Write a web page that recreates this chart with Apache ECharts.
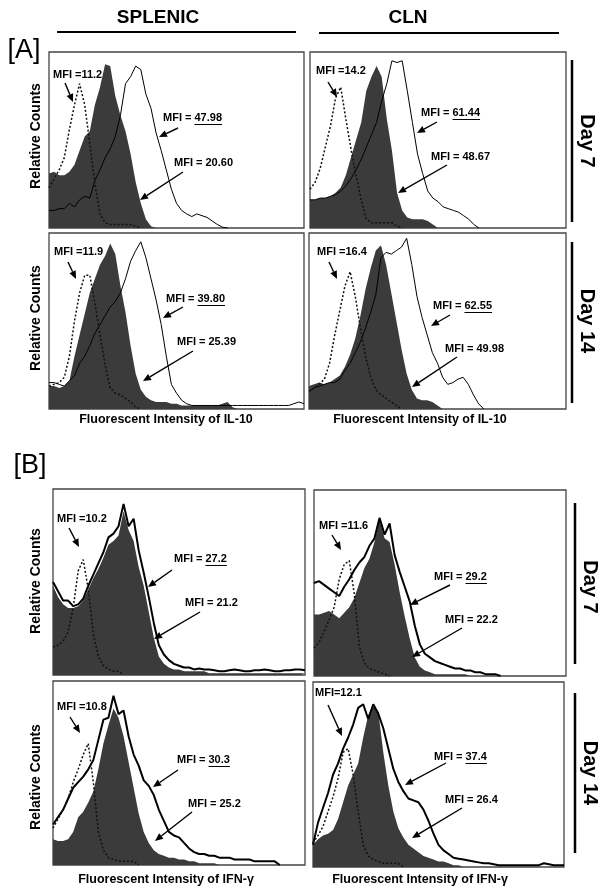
<!DOCTYPE html>
<html><head><meta charset="utf-8">
<script src="https://cdn.jsdelivr.net/npm/echarts@6/dist/echarts.min.js"></script>
<style>html,body{margin:0;padding:0;background:#fff}#c{width:610px;height:895px}</style>
</head><body><div id="c"></div>
<script>
// Histogram values (relative counts 0..1) per bin (bin index 0..50 across the fluorescence axis)
const A1_fill  = [0.31,0.32,0.30,0.30,0.32,0.36,0.44,0.52,0.55,0.70,0.80,0.93,0.92,0.75,0.64,0.55,0.42,0.26,0.14,0.05,0.01,0];
const A1_solid = [0.10,0.10,0.11,0.11,0.14,0.12,0.16,0.18,0.17,0.27,0.33,0.40,0.45,0.52,0.64,0.82,0.86,0.92,0.90,0.76,0.68,0.54,0.44,0.33,0.22,0.14,0.10,0.08,0.065,0.08,0.07,0.06,0.04,0.02,0.005,0];
const A1_dot   = [0.23,0.28,0.33,0.40,0.56,0.70,0.82,0.70,0.48,0.25,0.08,0.03,0.02,0.02,0.02,0.02,0.02,0.01,0];

const A2_fill  = [0.16,0.16,0.17,0.17,0.18,0.20,0.23,0.30,0.40,0.50,0.60,0.78,0.86,0.92,0.86,0.62,0.44,0.20,0.10,0.06,0.05,0.05,0.05,0.04,0.02,0];
const A2_solid = [0.16,0.16,0.17,0.17,0.18,0.19,0.21,0.24,0.28,0.33,0.39,0.46,0.53,0.60,0.72,0.82,0.95,0.94,0.95,0.78,0.60,0.42,0.31,0.21,0.17,0.15,0.12,0.11,0.10,0.09,0.07,0.05,0.02,0];
const A2_dot   = [0.22,0.26,0.34,0.46,0.58,0.74,0.80,0.62,0.45,0.30,0.16,0.05,0.03,0.03,0.03,0.03,0.03,0.01,0];

const A3_fill  = [0.13,0.13,0.12,0.13,0.16,0.30,0.42,0.54,0.66,0.74,0.82,0.87,0.94,0.88,0.70,0.55,0.36,0.20,0.11,0.07,0.05,0.04,0.04,0.04,0.03,0.03,0.02,0.02,0.02,0.02,0.02,0.02,0.02,0.02,0.03,0.04,0.01,0];
const A3_solid = [0.15,0.15,0.14,0.13,0.16,0.19,0.26,0.30,0.36,0.43,0.48,0.53,0.58,0.61,0.66,0.74,0.84,0.90,0.95,0.86,0.74,0.62,0.48,0.30,0.14,0.09,0.05,0.03,0.02,0.02,0.02,0.02,0.02,0.02,0.02,0.02,0.02,0.02,0.02,0.02,0.02,0.02,0.02,0.02,0.02,0.02,0.02,0.02,0.03,0.04,0.03];
const A3_dot   = [0.13,0.14,0.15,0.18,0.30,0.50,0.66,0.76,0.76,0.60,0.42,0.25,0.12,0.09,0.08,0.06,0.04,0.01,0];

const A4_fill  = [0.13,0.14,0.15,0.14,0.15,0.17,0.19,0.24,0.31,0.40,0.53,0.68,0.80,0.90,0.93,0.82,0.66,0.50,0.34,0.20,0.11,0.06,0.05,0.05,0.04,0.02,0];
const A4_solid = [0.10,0.12,0.13,0.14,0.15,0.15,0.17,0.22,0.26,0.32,0.38,0.46,0.55,0.65,0.86,0.89,0.88,0.90,0.92,0.97,0.82,0.64,0.52,0.42,0.32,0.26,0.18,0.14,0.15,0.17,0.18,0.14,0.08,0.03,0];
const A4_dot   = [0.10,0.12,0.14,0.17,0.26,0.42,0.56,0.70,0.78,0.64,0.46,0.30,0.18,0.11,0.08,0.06,0.04,0.02,0];

const B1_fill  = [0.48,0.42,0.38,0.36,0.36,0.37,0.40,0.46,0.52,0.57,0.63,0.70,0.72,0.75,0.88,0.78,0.72,0.58,0.48,0.34,0.20,0.10,0.06,0.04,0.03,0.03,0.02,0.02,0.02,0.02,0.02,0.01,0.01,0.01,0.01,0.01,0.01,0.01,0.01,0.01,0.01,0.01,0.01,0.01,0.01,0.01,0.01,0.01,0.01,0.01,0.01];
const B1_solid = [0.50,0.45,0.40,0.40,0.37,0.38,0.41,0.48,0.54,0.60,0.66,0.74,0.76,0.80,0.92,0.80,0.84,0.67,0.55,0.42,0.28,0.16,0.11,0.08,0.06,0.05,0.04,0.04,0.03,0.035,0.03,0.03,0.025,0.02,0.02,0.025,0.03,0.025,0.02,0.02,0.025,0.025,0.03,0.025,0.02,0.02,0.025,0.025,0.03,0.03,0.025];
const B1_dot   = [0.15,0.16,0.18,0.23,0.36,0.56,0.62,0.46,0.22,0.10,0.05,0.03,0.02,0.02,0];

const B2_fill  = [0.33,0.33,0.34,0.35,0.33,0.31,0.34,0.37,0.42,0.50,0.58,0.63,0.72,0.84,0.74,0.72,0.60,0.45,0.32,0.20,0.10,0.05,0.03,0.02,0.01,0.01,0.01,0.01,0.01,0.01,0.01,0];
const B2_solid = [0.50,0.51,0.49,0.47,0.45,0.43,0.48,0.52,0.57,0.61,0.64,0.70,0.74,0.85,0.76,0.82,0.65,0.56,0.48,0.40,0.27,0.17,0.12,0.10,0.08,0.07,0.06,0.05,0.04,0.04,0.03,0.03,0.02,0.02,0.01,0.01,0.01,0];
const B2_dot   = [0.15,0.18,0.24,0.30,0.37,0.52,0.60,0.62,0.44,0.16,0.07,0.04,0.03,0.02,0.01,0];

const B3_fill  = [0.14,0.13,0.13,0.14,0.18,0.26,0.29,0.34,0.40,0.52,0.66,0.76,0.85,0.80,0.70,0.56,0.42,0.28,0.18,0.12,0.08,0.06,0.05,0.04,0.04,0.03,0.03,0.02,0.02,0.01,0.01,0.01,0.01,0];
const B3_solid = [0.22,0.26,0.30,0.36,0.42,0.45,0.48,0.52,0.57,0.68,0.79,0.80,0.92,0.82,0.84,0.70,0.60,0.54,0.46,0.43,0.38,0.30,0.24,0.18,0.16,0.15,0.12,0.09,0.07,0.06,0.06,0.05,0.05,0.04,0.04,0.04,0.03,0.03,0.03,0.03,0.02,0.02,0.02,0.02,0.02,0];
const B3_dot   = [0.20,0.25,0.30,0.36,0.45,0.52,0.60,0.66,0.45,0.18,0.08,0.04,0.03,0.02,0.02,0.02,0.02,0];

const B4_fill  = [0.12,0.15,0.17,0.18,0.20,0.26,0.35,0.44,0.50,0.56,0.70,0.82,0.87,0.84,0.62,0.44,0.30,0.21,0.16,0.12,0.10,0.08,0.06,0.05,0.04,0.03,0.03,0.02,0.01,0.01,0];
const B4_solid = [0.12,0.24,0.32,0.40,0.50,0.56,0.64,0.70,0.77,0.86,0.88,0.80,0.88,0.83,0.75,0.64,0.53,0.46,0.41,0.37,0.36,0.35,0.31,0.25,0.18,0.12,0.09,0.07,0.05,0.045,0.04,0.035,0.03,0.025,0.02,0.02,0.015,0.01,0.01,0.01,0.01,0.01,0.01,0.01,0.01,0.01,0.02,0.015,0.01,0.01,0.01];
const B4_dot   = [0.13,0.17,0.22,0.30,0.38,0.48,0.62,0.64,0.50,0.30,0.12,0.06,0.04,0.03,0.02,0.02,0.02,0.02,0];

// MFI annotation texts
const mfiLabels = [
  ['MFI =11.2','',53,75], ['MFI = ','47.98',163,118], ['MFI = 20.60','',174,163],
  ['MFI =14.2','',316,71], ['MFI = ','61.44',421,113], ['MFI = 48.67','',431,157],
  ['MFI =11.9','',54,252], ['MFI = ','39.80',166,299], ['MFI = 25.39','',177,342],
  ['MFI =16.4','',317,252], ['MFI = ','62.55',433,306], ['MFI = 49.98','',445,349],
  ['MFI =10.2','',57,519], ['MFI = ','27.2',174,559], ['MFI = 21.2','',185,603],
  ['MFI =11.6','',319,526], ['MFI = ','29.2',434,577], ['MFI = 22.2','',445,620],
  ['MFI =10.8','',57,707], ['MFI = ','30.3',177,760], ['MFI = 25.2','',188,804],
  ['MFI=12.1','',315,693], ['MFI = ','37.4',434,757], ['MFI = 26.4','',445,800]
];
const arrows = [
  [65,83,73,102],[178,128,159,137],[183,172,140,200],
  [328,82,337,97],[437,122,417,133],[447,165,398,193],
  [68,262,76,279],[183,307,163,318],[193,351,143,381],
  [329,262,337,279],[450,315,431,326],[457,357,412,387],
  [69,528,79,547],[172,570,148,587],[200,612,154,639],
  [332,535,341,550],[450,585,410,605],[462,628,412,657],
  [70,717,80,733],[178,770,153,787],[192,812,155,841],
  [328,705,342,736],[446,763,405,785],[462,808,412,838]
];

const panels = [
  {box:[49,52,255,176], fill:A1_fill, solid:A1_solid, dot:A1_dot, lw:1},
  {box:[310,52,256,176], fill:A2_fill, solid:A2_solid, dot:A2_dot, lw:1},
  {box:[49,233,255,176], fill:A3_fill, solid:A3_solid, dot:A3_dot, lw:1},
  {box:[309,233,257,176], fill:A4_fill, solid:A4_solid, dot:A4_dot, lw:1},
  {box:[53,489,252,186], fill:B1_fill, solid:B1_solid, dot:B1_dot, lw:2},
  {box:[314,490,252,186], fill:B2_fill, solid:B2_solid, dot:B2_dot, lw:2},
  {box:[53,681,252,184], fill:B3_fill, solid:B3_solid, dot:B3_dot, lw:2},
  {box:[313,682,251,185], fill:B4_fill, solid:B4_solid, dot:B4_dot, lw:2}
];

const FONT = '"Liberation Sans", Arial, sans-serif';
const chart = echarts.init(document.getElementById('c'), null, {renderer:'canvas'});
const grid=[], xAxis=[], yAxis=[], series=[];
const pts = arr => arr.map((v,k)=>[k,v]);
panels.forEach((p,i)=>{
  grid.push({left:p.box[0], top:p.box[1], width:p.box[2], height:p.box[3], show:true,
    borderColor:'#454545', borderWidth:1.3, backgroundColor:'#fff'});
  xAxis.push({type:'value', gridIndex:i, min:0, max:50, show:false});
  yAxis.push({type:'value', gridIndex:i, min:0, max:1, show:false});
  series.push({type:'line', xAxisIndex:i, yAxisIndex:i, data:pts(p.fill), symbol:'none', silent:true,
    lineStyle:{width:0}, areaStyle:{color:'#3b3b3b', opacity:1}, z:2});
  series.push({type:'line', xAxisIndex:i, yAxisIndex:i, data:pts(p.solid), symbol:'none', silent:true,
    lineStyle:{width:p.lw, color:'#000'}, z:3});
  series.push({type:'line', xAxisIndex:i, yAxisIndex:i, data:pts(p.dot), symbol:'none', silent:true,
    lineStyle:{width:1.5, color:'#111', type:[2,2]}, z:4});
});

const g = [];
function txt(x,y,text,size,opts){
  g.push(Object.assign({type:'text', x:x, y:y, z:100, style:{text:text, font:'bold '+size+'px '+FONT, fill:'#000',
    textAlign:'center', textVerticalAlign:'middle'}}, opts||{}));
}
function line(x1,y1,x2,y2,w){
  g.push({type:'line', z:100, shape:{x1,y1,x2,y2}, style:{stroke:'#000', lineWidth:w}});
}
// headers
txt(158,18,'SPLENIC',19); txt(408,18,'CLN',19);
line(57,32,296,32,2); line(319,33,559,33,2);
g.push({type:'text', x:24, y:51, z:100, style:{text:'[A]', font:'27px '+FONT, fill:'#000', textAlign:'center', textVerticalAlign:'middle'}});
g.push({type:'text', x:30, y:466, z:100, style:{text:'[B]', font:'27px '+FONT, fill:'#000', textAlign:'center', textVerticalAlign:'middle'}});
// y titles
[136,318,581,777].forEach(y=>txt(36,y,'Relative Counts',14,{rotation:Math.PI/2}));
// x titles
txt(166,420,'Fluorescent Intensity of IL-10',12.5); txt(420,420,'Fluorescent Intensity of IL-10',12.5);
txt(166,880,'Fluorescent Intensity of IFN-\u03b3',12.5); txt(420,880,'Fluorescent Intensity of IFN-\u03b3',12.5);
// day labels
txt(587,141,'Day 7',20,{rotation:-Math.PI/2}); txt(587,321,'Day 14',20,{rotation:-Math.PI/2});
txt(590,587,'Day 7',20,{rotation:-Math.PI/2}); txt(590,773,'Day 14',20,{rotation:-Math.PI/2});
line(572,60,572,222,2.5); line(572,242,572,403,2.5);
line(575,503,575,664,2.5); line(575,693,575,853,2.5);
// MFI labels
const ctx = document.createElement('canvas').getContext('2d');
const mfont = 'bold 11px '+FONT;
ctx.font = mfont;
mfiLabels.forEach(([pre,num,x,y])=>{
  g.push({type:'text', x:x, y:y, z:100, style:{text:pre, font:mfont, fill:'#000', textAlign:'left', textVerticalAlign:'middle'}});
  if(num){
    const w0 = ctx.measureText(pre).width, w1 = ctx.measureText(num).width;
    g.push({type:'text', x:x+w0, y:y, z:100, style:{text:num, font:mfont, fill:'#000', textAlign:'left', textVerticalAlign:'middle'}});
    line(x+w0, y+6.5, x+w0+w1, y+6.5, 1);
  }
});
arrows.forEach(([x1,y1,x2,y2])=>{
  const a=Math.atan2(y2-y1,x2-x1), L=8, W=3.5;
  const bx=x2-L*Math.cos(a), by=y2-L*Math.sin(a);
  const px=-Math.sin(a)*W, py=Math.cos(a)*W;
  line(x1,y1,bx,by,1.4);
  g.push({type:'polygon', z:100, shape:{points:[[x2,y2],[bx+px,by+py],[bx-px,by-py]]}, style:{fill:'#000'}});
});

chart.setOption({animation:false, backgroundColor:'#fff', grid, xAxis, yAxis, series, graphic:{elements:g}});
</script>
</body></html>
